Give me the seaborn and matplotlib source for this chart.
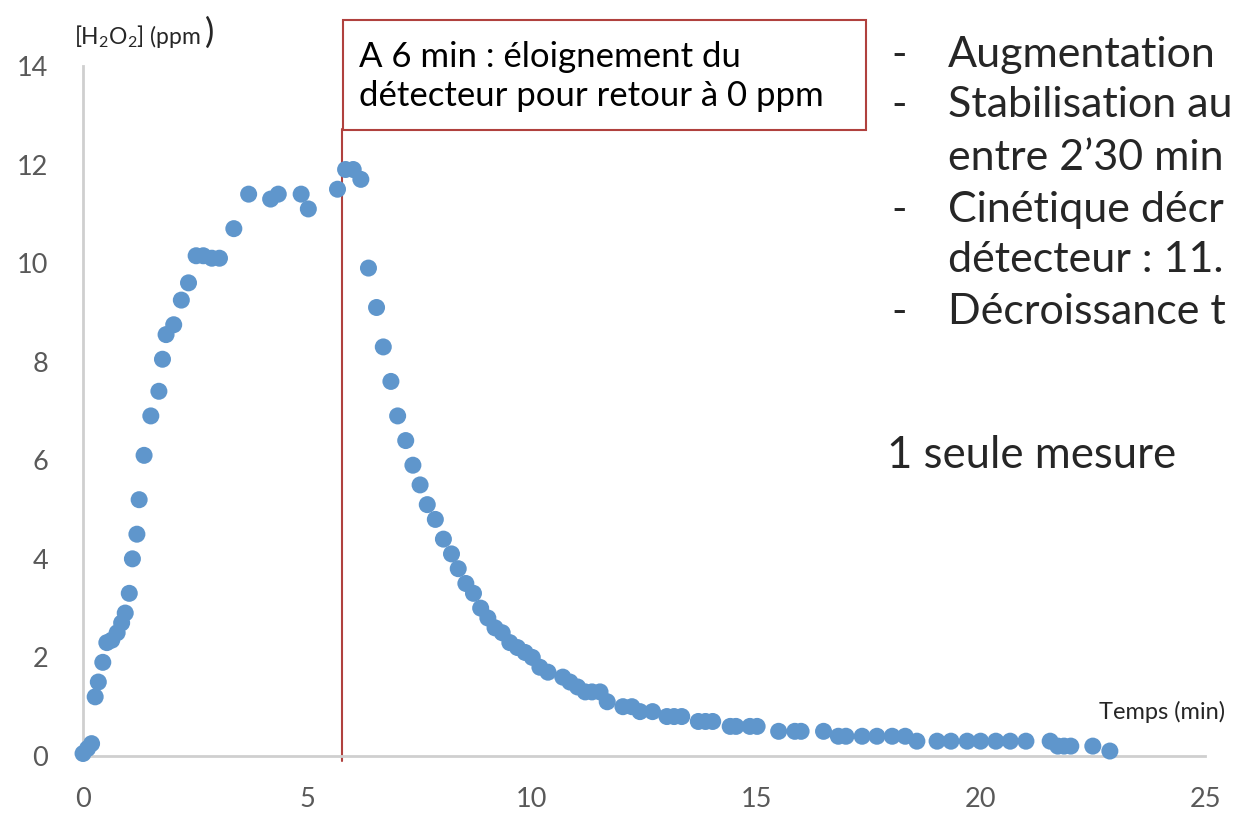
import matplotlib
matplotlib.use("Agg")
import matplotlib.pyplot as plt
from matplotlib.patches import Rectangle
import seaborn as sns
import pandas as pd

# H2O2 concentration measured by the detector over time
temps_min = [0.00, 0.10, 0.19, 0.27, 0.34, 0.44, 0.53, 0.64, 0.76, 0.86,
             0.94, 1.03, 1.10, 1.20, 1.25, 1.36, 1.51, 1.69, 1.77, 1.85,
             2.02, 2.19, 2.35, 2.52, 2.68, 2.87, 3.04, 3.36, 3.69, 4.18,
             4.35, 4.86, 5.02, 5.67, 5.85, 6.02, 6.19, 6.36, 6.54, 6.69,
             6.86, 7.01, 7.19, 7.35, 7.51, 7.67, 7.85, 8.03, 8.21, 8.36,
             8.53, 8.70, 8.86, 9.02, 9.18, 9.34, 9.51, 9.68, 9.85, 10.01,
             10.18, 10.36, 10.69, 10.85, 11.02, 11.19, 11.34, 11.52, 11.68, 12.03,
             12.23, 12.41, 12.69, 13.01, 13.17, 13.34, 13.71, 13.87, 14.03, 14.42,
             14.55, 14.86, 15.02, 15.50, 15.86, 16.00, 16.50, 16.83, 17.00, 17.36,
             17.69, 18.03, 18.32, 18.58, 19.03, 19.34, 19.70, 20.00, 20.34, 20.66,
             21.01, 21.55, 21.72, 21.86, 22.01, 22.50, 22.88]
h2o2_ppm = [0.05, 0.15, 0.25, 1.2, 1.5, 1.9, 2.3, 2.35, 2.5, 2.7,
            2.9, 3.3, 4.0, 4.5, 5.2, 6.1, 6.9, 7.4, 8.05, 8.55,
            8.75, 9.25, 9.6, 10.15, 10.15, 10.1, 10.1, 10.7, 11.4, 11.3,
            11.4, 11.4, 11.1, 11.5, 11.9, 11.9, 11.7, 9.9, 9.1, 8.3,
            7.6, 6.9, 6.4, 5.9, 5.5, 5.1, 4.8, 4.4, 4.1, 3.8,
            3.5, 3.3, 3.0, 2.8, 2.6, 2.5, 2.3, 2.2, 2.1, 2.0,
            1.8, 1.7, 1.6, 1.5, 1.4, 1.3, 1.3, 1.3, 1.1, 1.0,
            1.0, 0.9, 0.9, 0.8, 0.8, 0.8, 0.7, 0.7, 0.7, 0.6,
            0.6, 0.6, 0.6, 0.5, 0.5, 0.5, 0.5, 0.4, 0.4, 0.4,
            0.4, 0.4, 0.4, 0.3, 0.3, 0.3, 0.3, 0.3, 0.3, 0.3,
            0.3, 0.3, 0.2, 0.2, 0.2, 0.2, 0.1]

detach_time = 5.77  # detector moved away
x_ticks = [0, 5, 10, 15, 20, 25]
y_ticks = [0, 2, 4, 6, 8, 10, 12, 14]

box_text = "A 6 min : éloignement du\ndétecteur pour retour à 0 ppm"
bullets = ["Augmentation", "Stabilisation au", "entre 2’30 min", "Cinétique décr",
           "détecteur : 11.", "Décroissance t"]
bullet_dash = [True, True, False, True, False, True]
note = "1 seule mesure"

df = pd.DataFrame({"temps": temps_min, "ppm": h2o2_ppm})

sns.set_style("white")
plt.rcParams["font.family"] = ["Lato", "DejaVu Sans"]
plt.rcParams["mathtext.default"] = "regular"

fig = plt.figure(figsize=(12.34, 8.17), dpi=100)
ax = fig.add_axes([0.0673, 0.0747, 0.9092, 0.8445])

sns.scatterplot(data=df, x="temps", y="ppm", ax=ax, color="#5F96CC",
                s=150, edgecolor="none", linewidth=0, zorder=3, clip_on=False)

ax.set_xlim(0, 25)
ax.set_ylim(0, 14)
ax.set_xticks(x_ticks)
ax.set_yticks(y_ticks)
ax.tick_params(axis="both", length=0, labelsize=19.5, labelcolor="#595959")
ax.tick_params(axis="y", pad=25)
ax.tick_params(axis="x", pad=22)
ax.set_xlabel("")
ax.set_ylabel("")
for side in ["top", "right"]:
    ax.spines[side].set_visible(False)
for side in ["left", "bottom"]:
    ax.spines[side].set_color("#CFCFCF")
    ax.spines[side].set_linewidth(2)

# vertical marker at detector removal
ax.axvline(detach_time, ymin=-0.008, ymax=0.908, color="#B0413E", lw=1.5,
           clip_on=False, zorder=2)

# annotation box
fig.patches.append(Rectangle((0.278, 0.841), 0.4238, 0.1346, transform=fig.transFigure,
                             fill=False, edgecolor="#B0413E", lw=1.5))
fig.text(0.291, 0.9065, box_text, fontsize=25, va="center", ha="left",
         linespacing=1.25, color="black")

# axis titles
fig.text(0.060, 0.955, "[H$_2$O$_2$] (ppm", fontsize=16.5, va="center", ha="left")
fig.text(0.166, 0.960, ")", fontsize=25, va="center", ha="left")
fig.text(0.891, 0.128, "Temps (min)", fontsize=17, va="center", ha="left")

# side notes (cut by the slide edge)
line_y = [0.933, 0.871, 0.807, 0.743, 0.682, 0.618]
for txt, dash, yy in zip(bullets, bullet_dash, line_y):
    if dash:
        fig.text(0.722, yy, "-", fontsize=30, va="center", ha="left")
    fig.text(0.768, yy, txt, fontsize=31, va="center", ha="left")
fig.text(0.719, 0.443, note, fontsize=31.5, va="center", ha="left")

fig.savefig("out.png", dpi=100)
